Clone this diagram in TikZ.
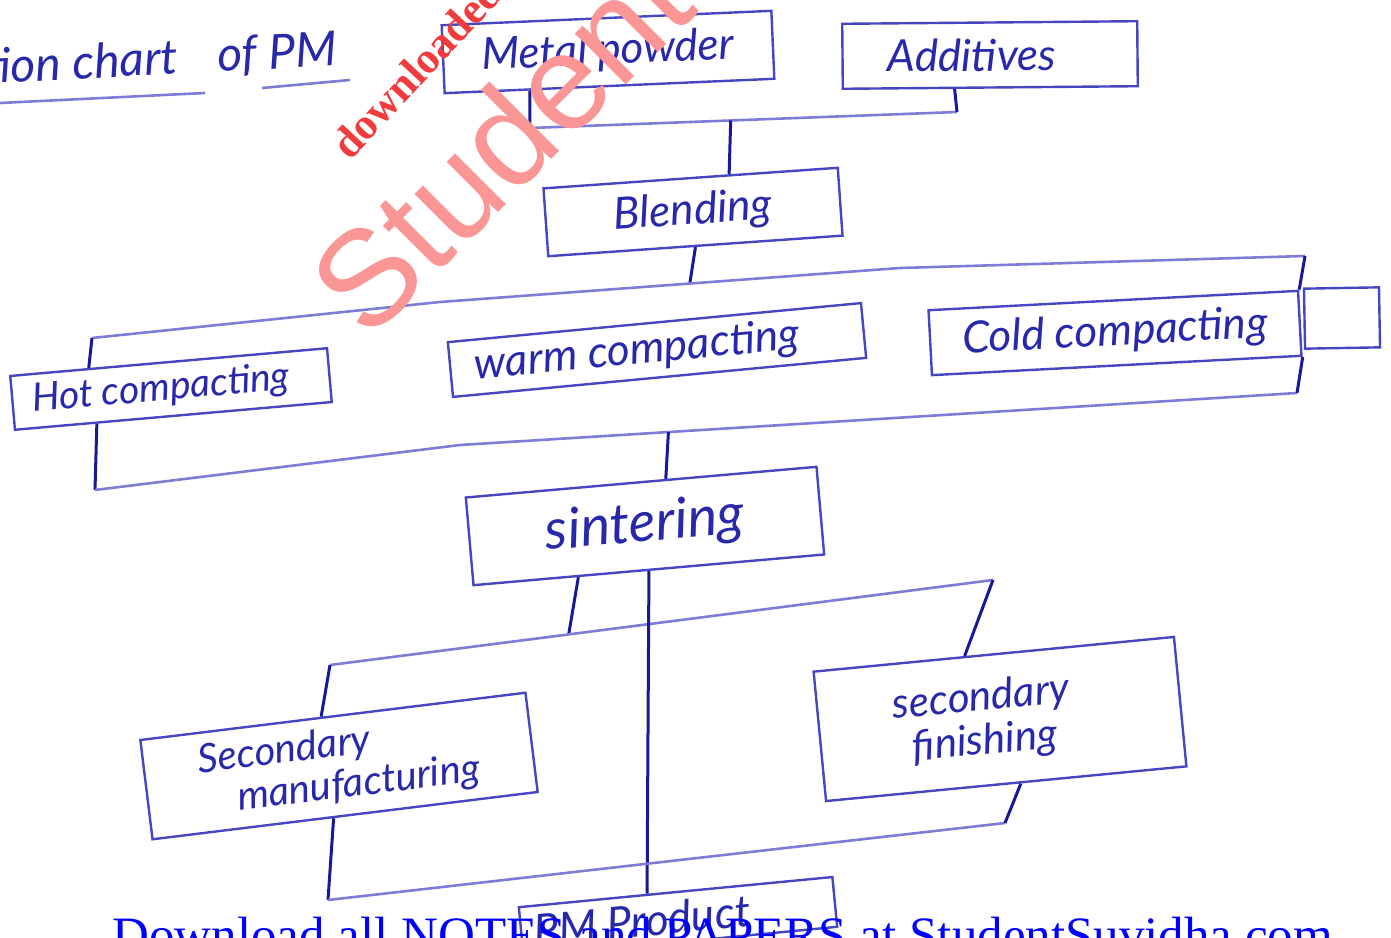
\documentclass[tikz,border=0pt]{standalone}
\usepackage{fontspec}
\usetikzlibrary{calc}
\newfontfamily\hand{Lato}
\newfontfamily\serifwm{Liberation Serif}
\newfontfamily\sanswm{Liberation Sans}
\definecolor{ink}{RGB}{40,40,170}
\definecolor{pen}{RGB}{25,25,150}
\definecolor{faint}{RGB}{125,125,215}
\definecolor{boxc}{RGB}{70,70,195}
\definecolor{wmred}{RGB}{240,60,60}
\definecolor{wmpink}{RGB}{250,150,150}
\definecolor{dlblue}{RGB}{0,0,255}
\begin{document}
\begin{tikzpicture}[x=0.5pt,y=-0.5pt,
  box/.style={draw=boxc, line width=1.2pt, inner sep=0pt, text=ink, align=center,
    font={\hand\itshape\fontsize{22}{24}\selectfont}},
  vline/.style={draw=pen, line width=1.5pt},
  hline/.style={draw=faint, line width=1.3pt}]
\useasboundingbox (0,0) rectangle (1391,937);
\clip (0,0) rectangle (1391,937);

% title
\node[anchor=base west, rotate=3, text=ink, inner sep=0pt,
  font={\hand\itshape\fontsize{24}{26}\selectfont}] (title) at (-16,84) {tion chart\hspace{20pt}of PM};
\coordinate (u1) at (0,103); \coordinate (u2) at (205,93);
\coordinate (u3) at (262,88); \coordinate (u4) at (350,80);
\draw[hline] (u1) -- (u2);
\draw[hline] (u3) -- (u4);

% boxes
\node[box, rotate=2.5, minimum width=165pt, minimum height=34pt] (mp) at (608,52) {Metal powder};
\node[box, rotate=0.5, minimum width=147.5pt, minimum height=32.5pt] (add) at (990,55) {Additives\hspace*{18pt}};
\node[box, rotate=4, minimum width=147.5pt, minimum height=34pt] (blend) at (693,212) {Blending};
\node[box, rotate=5, minimum width=159pt, minimum height=27pt,
  font={\hand\itshape\fontsize{19.5}{22}\selectfont}] (hot) at (171,389) {Hot compacting\hspace*{10pt}};
\node[box, rotate=5.4, minimum width=207.5pt, minimum height=27.5pt] (warm) at (657,350) {warm compacting\hspace*{20pt}};
\node[box, rotate=3, minimum width=185pt, minimum height=32.5pt] (cold) at (1115,333) {Cold compacting};
\node[box, rotate=1, minimum width=37.5pt, minimum height=30pt] (coldx) at (1342,318) {};
\node[box, rotate=5, minimum width=176pt, minimum height=44pt,
  font={\hand\itshape\fontsize{28}{30}\selectfont}] (sint) at (645,526) {sintering};
\node[box, rotate=7, minimum width=194pt, minimum height=50pt, align=left,
  font={\hand\itshape\fontsize{20}{21}\selectfont}] (secman) at (339,766) {Secondary\\\hspace*{17.5pt}manufacturing};
\node[box, rotate=5.5, minimum width=181pt, minimum height=65pt, align=left,
  font={\hand\itshape\fontsize{21}{22}\selectfont}] (secfin) at (1000,719) {secondary\\\hspace*{8pt}finishing\hspace*{25pt}};
\node[box, rotate=5.5, minimum width=157.5pt, minimum height=25pt] (pm) at (678,917) {PM Product\hspace*{36pt}};

% level 1 connectors
\coordinate (j1) at (530,128);
\coordinate (j2) at (957,112);
\draw[vline] ($(mp.south west)!0.26!(mp.south east)$) -- (j1);
\draw[hline] (j1) -- (j2);
\draw[vline] (j2) -- ($(add.south west)!0.38!(add.south east)$);
\draw[vline] ($(j1)!0.47!(j2)$) -- ($(blend.north west)!0.63!(blend.north east)$);

% level 2 connectors
\coordinate (h1) at (92,338);
\coordinate (hA) at (440,302);
\coordinate (hB) at (900,268);
\coordinate (h2) at (1305,256);
\draw[vline] (blend.south) -- ($(hA)!0.543!(hB)$);
\draw[hline] (h1) -- (hA) -- (hB) -- (h2);
\draw[vline] ($(hot.north west)!0.25!(hot.north east)$) -- (h1);
\draw[vline] (h2) -- (cold.north east);

% level 3 connectors
\coordinate (l1) at (95,490);
\coordinate (lA) at (460,445);
\coordinate (l2) at (1297,393);
\draw[vline] ($(hot.south west)!0.26!(hot.south east)$) -- (l1);
\draw[hline] (l1) -- (lA) -- (l2);
\draw[vline] (cold.south east) -- (l2);
\draw[vline] ($(lA)!0.249!(l2)$) -- ($(sint.north west)!0.57!(sint.north east)$);

% level 4 connectors
\coordinate (s1) at (330,665);
\coordinate (s2) at (993,580);
\draw[vline] ($(sint.south west)!0.3!(sint.south east)$) -- ($(s1)!0.36!(s2)$);
\draw[hline] (s1) -- (s2);
\draw[vline] (s1) -- ($(secman.north west)!0.47!(secman.north east)$);
\draw[vline] (s2) -- ($(secfin.north west)!0.42!(secfin.north east)$);
\draw[vline] (sint.south) -- ($(pm.north west)!0.41!(pm.north east)$);

% level 5 connectors
\coordinate (b1) at (328,900);
\coordinate (b2) at (1005,823);
\draw[vline] ($(secman.south west)!0.47!(secman.south east)$) -- (b1);
\draw[hline] (b1) -- (b2);
\draw[vline] (b2) -- ($(secfin.south west)!0.54!(secfin.south east)$);

% watermarks and footer
\node[anchor=base west, rotate=45, inner sep=0pt, text=wmpink,
  font={\sanswm\fontsize{68}{70}\selectfont}] (wm1) at (368,343) {StudentSuvidha};
\node[anchor=base west, rotate=47, inner sep=0pt, text=wmred,
  font={\serifwm\bfseries\fontsize{22}{24}\selectfont}] (wm2) at (350,162) {downloaded from};
\node[anchor=base west, inner sep=0pt, text=dlblue,
  font={\serifwm\fontsize{25.5}{28}\selectfont}] (dl) at (112,952) {Download all NOTES and PAPERS at StudentSuvidha.com};
\end{tikzpicture}
\end{document}
